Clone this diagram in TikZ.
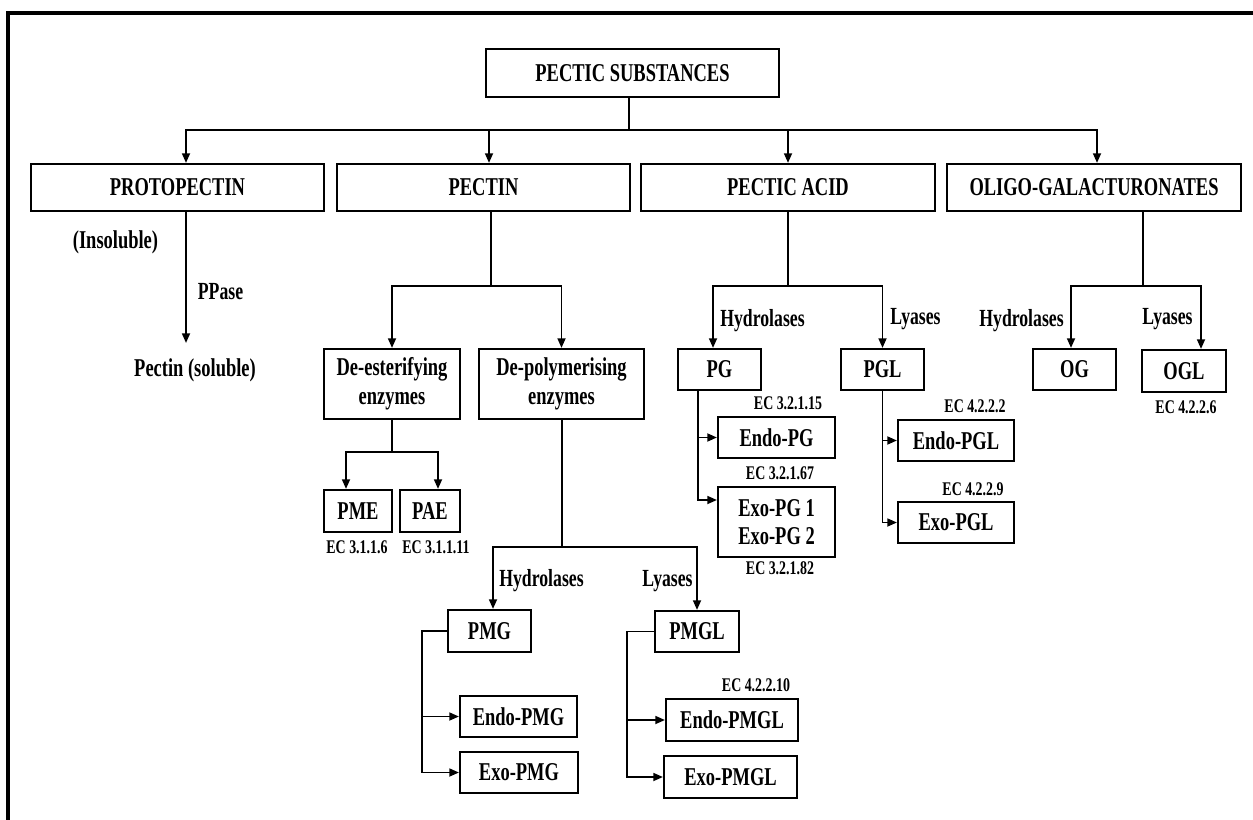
\documentclass[tikz,border=0pt]{standalone}
\usepackage{fontspec}
\setmainfont{Liberation Serif}[FakeStretch=0.72]
\usetikzlibrary{arrows.meta}

\tikzset{
  box/.style={draw, line width=1.2pt, align=center, inner sep=1pt, font=\bfseries\fontsize{14.6}{16.5}\selectfont},
  lbl/.style={inner sep=0pt, font=\bfseries\fontsize{14}{16}\selectfont},
  eclbl/.style={inner sep=0pt, font=\bfseries\fontsize{11}{12}\selectfont},
  link/.style={line width=1.1pt},
}

\begin{document}
\begin{tikzpicture}[x=0.02cm, y=-0.02cm, >={Triangle[length=5.5pt,width=4.5pt]}]
    \useasboundingbox (0,0) rectangle (1253,820);
    \draw [line width=1.8pt] (1253,13) -- (8,13) -- (8,820);

    % top levels
    \node [box, minimum width=5.86cm, minimum height=0.96cm] (sub) at (632.5,73) {PECTIC SUBSTANCES};
    \node [box, minimum width=5.87cm, minimum height=0.94cm] (proto) at (177.5,187.5) {PROTOPECTIN};
    \node [box, minimum width=5.87cm, minimum height=0.94cm] (pectin) at (483.5,187.5) {PECTIN};
    \node [box, minimum width=5.87cm, minimum height=0.94cm] (acid) at (788,187.5) {PECTIC ACID};
    \node [box, minimum width=5.87cm, minimum height=0.94cm] (oligo) at (1094,187.5) {OLIGO-GALACTURONATES};

    % protopectin
    \node [lbl, font=\bfseries\fontsize{14.6}{16}\selectfont] (insol) at (115.5,242) {(Insoluble)};
    \node [lbl] (ppase) at (220.5,292) {PPase};
    \node [lbl, font=\bfseries\fontsize{14.6}{16}\selectfont] (soluble) at (195,370) {Pectin (soluble)};

    % pectin
    \node [box, minimum width=2.72cm, minimum height=1.40cm] (deest) at (392,384) {De-esterifying\\enzymes};
    \node [box, minimum width=3.30cm, minimum height=1.40cm] (depoly) at (561.5,384) {De-polymerising\\enzymes};
    \node [box, minimum width=1.36cm, minimum height=0.84cm] (pme) at (358,511) {PME};
    \node [box, minimum width=1.20cm, minimum height=0.84cm] (pae) at (430,511) {PAE};
    \node [eclbl] (ecpme) at (357,547) {EC 3.1.1.6};
    \node [eclbl] (ecpae) at (436,547) {EC 3.1.1.11};

    \node [lbl] (hydpmg) at (541.5,581) {Hydrolases};
    \node [lbl] (lyapmgl) at (667.5,581) {Lyases};
    \node [box, minimum width=1.66cm, minimum height=0.84cm] (pmg) at (489.5,631) {PMG};
    \node [box, minimum width=1.68cm, minimum height=0.82cm] (pmgl) at (697,631.5) {PMGL};
    \node [box, minimum width=2.34cm, minimum height=0.82cm] (endopmg) at (518.5,716.5) {Endo-PMG};
    \node [box, minimum width=2.36cm, minimum height=0.82cm] (exopmg) at (519,772.5) {Exo-PMG};
    \node [eclbl] (ecendopmgl) at (756,685) {EC 4.2.2.10};
    \node [box, minimum width=2.64cm, minimum height=0.84cm] (endopmgl) at (732,720) {Endo-PMGL};
    \node [box, minimum width=2.66cm, minimum height=0.84cm] (exopmgl) at (730.5,777) {Exo-PMGL};

    % pectic acid
    \node [lbl] (hydpg) at (762.5,321) {Hydrolases};
    \node [lbl] (lyapgl) at (915.5,319) {Lyases};
    \node [box, minimum width=1.66cm, minimum height=0.82cm] (pg) at (719.5,369.5) {PG};
    \node [box, minimum width=1.66cm, minimum height=0.82cm] (pgl) at (882.5,369.5) {PGL};
    \node [eclbl] (ecendopg) at (788,403) {EC 3.2.1.15};
    \node [box, minimum width=2.34cm, minimum height=0.82cm] (endopg) at (776.5,437.5) {Endo-PG};
    \node [eclbl] (ecexopga) at (780,473) {EC 3.2.1.67};
    \node [box, minimum width=2.34cm, minimum height=1.40cm, font=\bfseries\fontsize{14.6}{15.6}\selectfont] (exopg) at (776.5,522) {Exo-PG 1\\Exo-PG 2};
    \node [eclbl] (ecexopgb) at (780,568) {EC 3.2.1.82};
    \node [eclbl] (ecendopgl) at (975,406) {EC 4.2.2.2};
    \node [box, minimum width=2.32cm, minimum height=0.82cm] (endopgl) at (956,440.5) {Endo-PGL};
    \node [eclbl] (ecexopgl) at (973,489) {EC 4.2.2.9};
    \node [box, minimum width=2.32cm, minimum height=0.82cm] (exopgl) at (956,522.5) {Exo-PGL};

    % oligo-galacturonates
    \node [lbl] (hydog) at (1021.5,321) {Hydrolases};
    \node [lbl] (lyaogl) at (1167.5,319) {Lyases};
    \node [box, minimum width=1.66cm, minimum height=0.82cm] (og) at (1074.5,369.5) {OG};
    \node [box, minimum width=1.68cm, minimum height=0.84cm] (ogl) at (1184,371) {OGL};
    \node [eclbl] (ecogl) at (1186,407) {EC 4.2.2.6};

    % split points
    \coordinate (bus) at (629,130);
    \coordinate (protoend) at (186,343);
    \coordinate (pecsplit) at (491,286);
    \coordinate (acidsplit) at (788,286);
    \coordinate (oligosplit) at (1143,286);
    \coordinate (deestsplit) at (392,452);
    \coordinate (depolysplit) at (562,547);

    % connectors
    \draw [link] (sub.south -| bus) -- (bus);
    \draw [link, ->] (bus) -| ([xshift=0.17cm]proto.north);
    \draw [link, ->] (bus) -| ([xshift=0.11cm]pectin.north);
    \draw [link, ->] (bus) -| (acid.north);
    \draw [link, ->] (bus) -| ([xshift=0.06cm]oligo.north);
    \draw [link, ->] ([xshift=0.17cm]proto.south) -- (protoend);

    \draw [link] (pectin.south -| pecsplit) -- (pecsplit);
    \draw [link, ->] (pecsplit) -| (deest.north);
    \draw [link, ->] (pecsplit) -| (depoly.north);
    \draw [link] (deest.south) -- (deestsplit);
    \draw [link, ->] (deestsplit) -| ([xshift=-0.24cm]pme.north);
    \draw [link, ->] (deestsplit) -| ([xshift=0.16cm]pae.north);
    \draw [link] (depoly.south -| depolysplit) -- (depolysplit);
    \draw [link, ->] (depolysplit) -| ([xshift=0.07cm]pmg.north);
    \draw [link, ->] (depolysplit) -| (pmgl.north);
    \draw [link, ->] (pmg.west) -- ++(-25,0) |- (endopmg.west);
    \draw [link, ->] (pmg.west) -- ++(-25,0) |- (exopmg.west);
    \draw [link, ->] (pmgl.west) -- ++(-27,0) |- (endopmgl.west);
    \draw [link, ->] (pmgl.west) -- ++(-27,0) |- (exopmgl.west);

    \draw [link] (acid.south) -- (acidsplit);
    \draw [link, ->] (acidsplit) -| ([xshift=-0.13cm]pg.north);
    \draw [link, ->] (acidsplit) -| (pgl.north);
    \draw [link, ->] ([xshift=-0.43cm]pg.south) |- (endopg.west);
    \draw [link, ->] ([xshift=-0.43cm]pg.south) |- ([yshift=0.44cm]exopg.west);
    \draw [link, ->] (pgl.south) |- (endopgl.west);
    \draw [link, ->] (pgl.south) |- (exopgl.west);

    \draw [link] (oligo.south -| oligosplit) -- (oligosplit);
    \draw [link, ->] (oligosplit) -| ([xshift=-0.07cm]og.north);
    \draw [link, ->] (oligosplit) -| ([xshift=0.34cm]ogl.north);
\end{tikzpicture}
\end{document}
